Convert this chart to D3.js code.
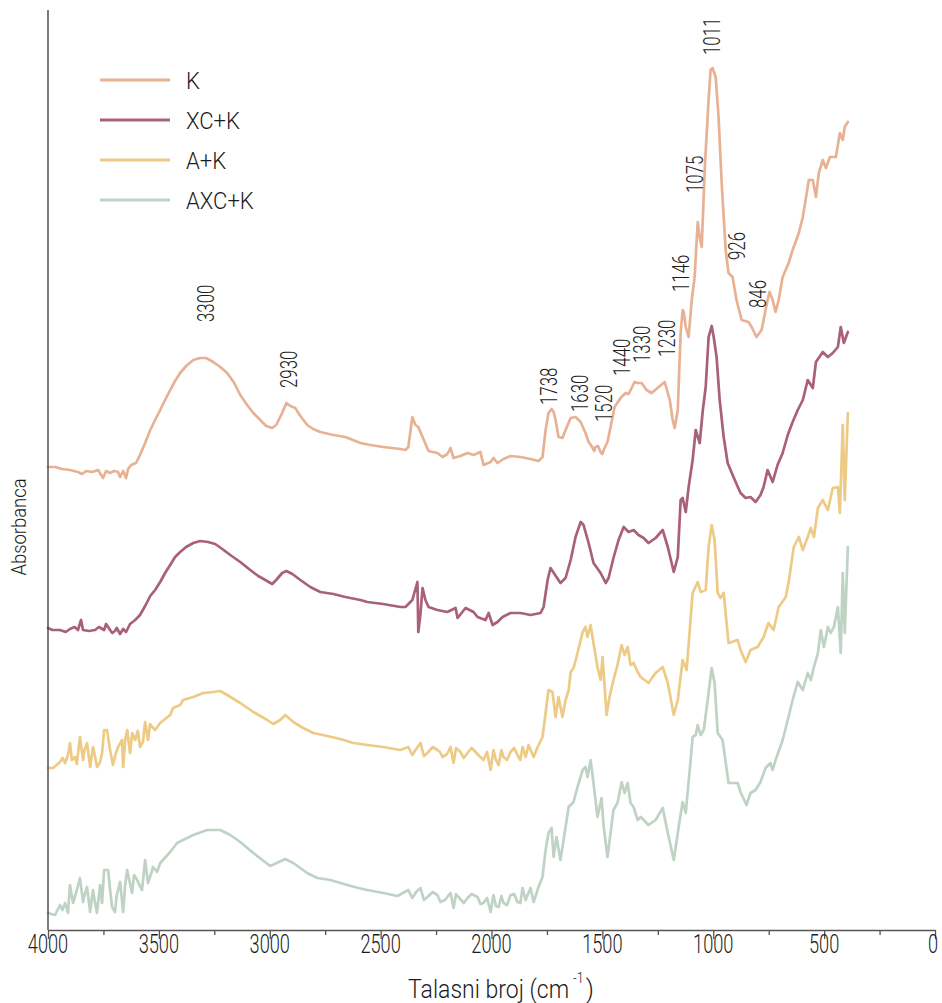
<!DOCTYPE html>
<html>
<head>
<meta charset="utf-8">
<script src="https://cdn.jsdelivr.net/npm/d3@7"></script>
<style>
  html, body { margin: 0; padding: 0; background: #fff; }
  svg { display: block; }
  text { font-family: Roboto, "Noto Sans", sans-serif; font-weight: 300; fill: #1c1c1c; }
</style>
</head>
<body>
<svg id="chart" width="942" height="1003"></svg>
<script>
// FTIR spectra: [wavenumber cm-1, absorbance (stacked, arbitrary units)]
const spectrumK = [
  [4000,4.63],[3968,4.63],[3937,4.61],[3901,4.60],[3865,4.58],[3846,4.56],[3828,4.59],[3801,4.58],
  [3774,4.60],[3752,4.52],[3738,4.59],[3720,4.57],[3702,4.59],[3684,4.58],[3675,4.53],[3661,4.59],
  [3648,4.52],[3639,4.61],[3625,4.65],[3603,4.67],[3585,4.75],[3562,4.87],[3539,5.00],[3517,5.10],
  [3494,5.20],[3472,5.30],[3449,5.40],[3427,5.49],[3404,5.57],[3377,5.64],[3345,5.70],[3314,5.72],
  [3287,5.72],[3255,5.68],[3223,5.63],[3192,5.57],[3160,5.47],[3133,5.35],[3102,5.25],[3074,5.17],
  [3043,5.10],[3016,5.04],[2989,5.02],[2971,5.05],[2944,5.17],[2925,5.27],[2907,5.24],[2885,5.22],
  [2862,5.14],[2831,5.05],[2804,5.01],[2772,4.98],[2713,4.95],[2659,4.93],[2591,4.87],[2546,4.85],
  [2488,4.83],[2411,4.81],[2388,4.80],[2375,4.83],[2357,5.13],[2343,5.05],[2330,5.03],[2311,4.93],
  [2284,4.79],[2244,4.77],[2221,4.73],[2199,4.76],[2185,4.82],[2171,4.72],[2140,4.74],[2108,4.77],
  [2081,4.75],[2050,4.78],[2036,4.65],[2004,4.68],[1991,4.72],[1973,4.67],[1946,4.71],[1914,4.74],
  [1869,4.73],[1824,4.71],[1788,4.69],[1770,4.73],[1756,5.00],[1743,5.17],[1729,5.21],[1720,5.18],
  [1711,5.10],[1698,4.93],[1680,4.92],[1666,5.00],[1643,5.12],[1621,5.13],[1598,5.08],[1576,4.97],
  [1562,4.88],[1544,4.82],[1531,4.83],[1508,4.78],[1494,4.80],[1477,4.88],[1463,5.03],[1445,5.23],
  [1418,5.32],[1395,5.37],[1382,5.36],[1368,5.42],[1355,5.48],[1341,5.47],[1323,5.47],[1301,5.40],
  [1278,5.37],[1246,5.43],[1219,5.48],[1196,5.30],[1183,5.10],[1174,5.02],[1160,5.20],[1147,5.97],
  [1138,6.20],[1133,6.18],[1124,6.03],[1111,5.93],[1097,6.30],[1084,6.53],[1070,7.08],[1061,6.93],
  [1052,6.83],[1038,7.63],[1021,8.30],[1012,8.60],[1003,8.62],[989,8.53],[976,8.13],[962,7.47],
  [944,6.80],[931,6.57],[913,6.53],[895,6.30],[872,6.10],[841,6.08],[827,6.03],[805,5.93],
  [782,6.00],[755,6.30],[746,6.38],[732,6.30],[719,6.18],[705,6.30],[687,6.53],[660,6.67],
  [642,6.80],[614,6.97],[596,7.13],[569,7.50],[551,7.50],[537,7.33],[524,7.57],[506,7.70],
  [492,7.62],[474,7.73],[447,7.73],[429,7.97],[416,7.90],[407,8.03],[393,8.08],
  [1555,4.86],[1537,4.79],[1520,4.84],[1500,4.76]
];

const spectrumXCK = [
  [4000,3.02],[3946,3.00],[3901,3.01],[3865,3.00],[3851,3.10],[3842,3.00],[3788,3.00],[3747,3.00],
  [3738,3.06],[3720,3.00],[3698,2.99],[3675,2.96],[3661,3.01],[3648,2.98],[3630,3.06],[3607,3.10],
  [3585,3.15],[3562,3.24],[3539,3.34],[3517,3.40],[3494,3.48],[3472,3.57],[3449,3.65],[3427,3.73],
  [3404,3.78],[3377,3.83],[3345,3.87],[3314,3.89],[3278,3.88],[3246,3.86],[3214,3.81],[3178,3.75],
  [3133,3.68],[3088,3.60],[3052,3.54],[3020,3.50],[2989,3.46],[2971,3.50],[2944,3.57],[2925,3.59],
  [2898,3.56],[2862,3.50],[2817,3.43],[2772,3.38],[2713,3.36],[2659,3.33],[2591,3.30],[2560,3.28],
  [2488,3.26],[2411,3.23],[2388,3.23],[2357,3.30],[2334,3.48],[2330,2.98],[2320,3.17],[2311,3.42],
  [2298,3.30],[2284,3.23],[2244,3.20],[2199,3.18],[2162,3.22],[2153,3.12],[2117,3.22],[2081,3.18],
  [2063,3.13],[2027,3.10],[2013,3.17],[1995,3.05],[1973,3.08],[1950,3.13],[1914,3.17],[1869,3.17],
  [1824,3.15],[1779,3.17],[1765,3.23],[1747,3.50],[1734,3.62],[1716,3.56],[1689,3.47],[1666,3.52],
  [1643,3.70],[1621,3.93],[1598,4.08],[1585,4.05],[1562,3.87],[1540,3.67],[1508,3.57],[1485,3.47],
  [1472,3.52],[1450,3.72],[1427,3.90],[1404,4.03],[1382,3.98],[1359,4.00],[1337,3.95],[1314,3.92],
  [1292,3.87],[1260,3.92],[1228,4.00],[1205,3.83],[1178,3.58],[1160,3.73],[1147,4.30],[1138,4.32],
  [1124,4.18],[1111,4.43],[1093,4.70],[1079,5.00],[1061,4.87],[1047,5.20],[1034,5.43],[1021,5.93],
  [1007,6.04],[998,5.93],[985,5.73],[971,5.30],[953,4.93],[935,4.67],[922,4.60],[899,4.48],
  [877,4.37],[854,4.32],[832,4.33],[809,4.28],[787,4.35],[773,4.43],[755,4.60],[732,4.48],
  [710,4.65],[687,4.77],[664,4.95],[642,5.08],[619,5.20],[596,5.30],[574,5.50],[551,5.42],
  [537,5.68],[506,5.78],[483,5.73],[461,5.77],[438,5.83],[425,6.03],[411,5.87],[393,5.98],
  [3980,3.00],[3920,2.98],[3880,3.03],[3815,2.99],[3770,3.03],[3710,2.97],[3690,3.02]
];

const spectrumAK = [
  [4000,1.62],[3977,1.62],[3946,1.68],[3923,1.67],[3910,1.75],[3901,1.87],[3892,1.70],[3878,1.73],
  [3856,1.93],[3842,1.70],[3824,1.87],[3810,1.63],[3797,1.83],[3779,1.63],[3756,1.77],[3747,2.00],
  [3734,2.00],[3720,1.80],[3707,1.65],[3684,1.83],[3666,1.90],[3661,1.63],[3643,2.00],[3630,1.77],
  [3607,1.90],[3585,1.83],[3562,2.08],[3549,1.90],[3530,2.03],[3517,2.00],[3494,2.07],[3449,2.15],
  [3436,2.22],[3404,2.25],[3391,2.30],[3345,2.33],[3300,2.37],[3255,2.38],[3223,2.39],[3192,2.35],
  [3133,2.27],[3074,2.18],[3011,2.10],[2984,2.06],[2953,2.10],[2930,2.15],[2894,2.08],[2849,2.02],
  [2804,1.97],[2740,1.94],[2682,1.91],[2623,1.87],[2560,1.85],[2488,1.83],[2411,1.80],[2375,1.83],
  [2357,1.75],[2320,1.87],[2289,1.77],[2244,1.80],[2221,1.73],[2185,1.83],[2171,1.67],[2140,1.78],
  [2108,1.77],[2072,1.78],[2036,1.70],[2004,1.60],[1991,1.80],[1968,1.65],[1946,1.73],[1914,1.78],
  [1883,1.75],[1860,1.83],[1846,1.73],[1833,1.85],[1810,1.73],[1792,1.83],[1770,1.93],[1756,2.17],
  [1743,2.40],[1725,2.38],[1711,2.13],[1698,2.33],[1680,2.13],[1666,2.30],[1652,2.40],[1643,2.58],
  [1630,2.62],[1612,2.77],[1589,2.98],[1576,3.03],[1567,2.93],[1553,3.05],[1540,2.87],[1522,2.63],
  [1508,2.50],[1499,2.73],[1481,2.15],[1468,2.33],[1450,2.50],[1432,2.65],[1413,2.85],[1400,2.75],
  [1386,2.83],[1373,2.65],[1359,2.67],[1341,2.58],[1327,2.53],[1292,2.47],[1260,2.57],[1228,2.63],
  [1205,2.47],[1178,2.15],[1160,2.30],[1138,2.70],[1120,2.60],[1093,3.37],[1070,3.48],[1057,3.38],
  [1034,3.40],[1021,3.83],[1007,4.05],[994,3.90],[980,3.37],[967,3.32],[953,3.37],[931,2.87],
  [890,2.90],[877,2.80],[854,2.68],[832,2.80],[800,2.83],[773,2.93],[751,3.07],[728,3.00],
  [705,3.23],[673,3.33],[660,3.48],[637,3.83],[614,3.93],[596,3.80],[574,3.93],[560,4.02],
  [546,3.93],[528,4.22],[506,4.30],[483,4.20],[461,4.42],[438,4.43],[429,4.17],[416,5.05],
  [407,4.30],[393,5.17],
  [3935,1.72],[3870,1.66],[3835,1.80],[3790,1.76],[3765,1.68],[3695,1.76],[3652,1.90],[3620,1.97],
  [3595,1.99],[3572,1.88],[3540,2.06],
  [2340,1.81],[2305,1.74],[2265,1.83],[2232,1.78],[2200,1.76],[2160,1.82],[2125,1.72],[2090,1.82],
  [2055,1.74],[2020,1.78],[1980,1.70],[1955,1.80],[1930,1.70],[1898,1.82],[1870,1.70]
];

const spectrumAXCK = [
  [4000,0.17],[3968,0.15],[3946,0.25],[3923,0.27],[3910,0.17],[3901,0.45],[3887,0.27],[3856,0.52],
  [3842,0.28],[3824,0.43],[3810,0.18],[3797,0.40],[3779,0.17],[3756,0.27],[3747,0.60],[3729,0.60],
  [3711,0.23],[3698,0.18],[3675,0.48],[3661,0.18],[3643,0.60],[3621,0.37],[3598,0.50],[3576,0.40],
  [3562,0.70],[3549,0.47],[3526,0.63],[3508,0.58],[3494,0.67],[3449,0.78],[3418,0.87],[3391,0.90],
  [3345,0.95],[3282,1.00],[3223,1.00],[3178,0.95],[3133,0.88],[3074,0.77],[2998,0.64],[2930,0.71],
  [2894,0.67],[2831,0.57],[2786,0.52],[2727,0.50],[2650,0.45],[2600,0.42],[2560,0.40],[2488,0.37],
  [2424,0.34],[2375,0.40],[2357,0.32],[2320,0.42],[2289,0.33],[2244,0.35],[2230,0.28],[2185,0.37],
  [2171,0.22],[2149,0.33],[2108,0.32],[2063,0.33],[2036,0.27],[2004,0.18],[1991,0.35],[1968,0.23],
  [1946,0.27],[1914,0.35],[1883,0.28],[1860,0.42],[1846,0.30],[1824,0.42],[1810,0.28],[1788,0.43],
  [1770,0.53],[1756,0.80],[1743,0.97],[1729,1.02],[1720,0.73],[1707,0.93],[1689,0.70],[1675,0.90],
  [1652,1.23],[1630,1.28],[1612,1.43],[1589,1.60],[1576,1.63],[1567,1.53],[1553,1.70],[1540,1.47],
  [1522,1.13],[1504,1.32],[1494,1.03],[1477,0.73],[1463,0.97],[1450,1.20],[1432,1.27],[1413,1.48],
  [1400,1.37],[1386,1.47],[1373,1.27],[1359,1.23],[1341,1.10],[1327,1.13],[1292,1.05],[1260,1.10],
  [1228,1.22],[1205,0.97],[1178,0.70],[1156,1.03],[1138,1.28],[1124,1.17],[1102,1.70],[1093,1.93],
  [1079,1.95],[1070,2.05],[1057,1.95],[1043,2.00],[1025,2.30],[1007,2.62],[994,2.47],[980,1.97],
  [958,1.90],[931,1.47],[890,1.47],[877,1.38],[850,1.25],[832,1.37],[809,1.40],[787,1.48],
  [764,1.62],[742,1.67],[732,1.60],[719,1.70],[687,1.90],[664,2.10],[642,2.30],[619,2.48],
  [596,2.40],[574,2.57],[560,2.50],[546,2.63],[528,2.77],[515,3.00],[501,2.83],[483,3.03],
  [470,2.97],[456,3.03],[438,3.23],[425,2.77],[416,3.57],[407,2.97],[393,3.83],
  [3935,0.20],[3870,0.40],[3835,0.35],[3790,0.30],[3765,0.45],[3720,0.40],[3690,0.35],[3652,0.45],
  [3612,0.55],[3588,0.45],[3537,0.55],
  [2340,0.38],[2305,0.30],[2265,0.38],[2210,0.30],[2160,0.36],[2125,0.27],[2090,0.36],[2050,0.26],
  [2020,0.32],[1980,0.24],[1955,0.34],[1930,0.25],[1898,0.36],[1870,0.27]
];

const seriesNames = ["K", "XC+K", "A+K", "AXC+K"];
const seriesColors = ["#E8B194", "#A9607A", "#EDCB86", "#BED3C4"];
const seriesData = [spectrumK, spectrumXCK, spectrumAK, spectrumAXCK]
  .map(s => s.slice().sort((a, b) => b[0] - a[0]));

const majorTicks = [4000, 3500, 3000, 2500, 2000, 1500, 1000, 500, 0];
const minorTicks = [3750, 3250, 2750, 2250, 1750, 1250, 750, 250];

// Band assignments marked on the K spectrum
const peakLabels = [3300, 2930, 1738, 1630, 1520, 1440, 1330, 1230, 1146, 1075, 1011, 926, 846];

// ---- layout ----
const plot = { left: 48, right: 935, top: 10, bottom: 930 };
const svg = d3.select("#chart");

const x = d3.scaleLinear().domain([4000, 0]).range([plot.left, plot.right]);
const y = d3.scaleLinear().domain([0, 9.2]).range([plot.bottom, plot.top]);

// squeeze text horizontally to get a condensed face
function condense(sel, f) {
  sel.each(function () {
    const w = this.getComputedTextLength();
    this.setAttribute("textLength", (w * f).toFixed(1));
    this.setAttribute("lengthAdjust", "spacingAndGlyphs");
  });
}

// spectra
const line = d3.line().x(d => x(d[0])).y(d => y(d[1]));
svg.append("g").selectAll("path")
  .data(seriesData.map((d, i) => ({ d, i })).reverse())
  .join("path")
  .attr("d", s => line(s.d))
  .attr("fill", "none")
  .attr("stroke", s => seriesColors[s.i])
  .attr("stroke-width", 2.7)
  .attr("stroke-linejoin", "round")
  .attr("stroke-linecap", "round");

// left axis (no ticks)
svg.append("line")
  .attr("x1", plot.left).attr("x2", plot.left)
  .attr("y1", plot.top).attr("y2", plot.bottom)
  .attr("stroke", "#444").attr("stroke-width", 1.4);

// bottom axis
const gx = svg.append("g").attr("transform", `translate(0,${plot.bottom})`);
gx.call(d3.axisBottom(x).tickValues(majorTicks).tickSize(9).tickSizeOuter(0).tickFormat(""));
gx.append("g").call(d3.axisBottom(x).tickValues(minorTicks).tickSize(5).tickSizeOuter(0).tickFormat(""))
  .select(".domain").remove();
gx.selectAll(".domain").attr("stroke", "#555").attr("stroke-width", 1.6);
gx.selectAll(".tick line").attr("stroke", "#555").attr("stroke-width", 1.3);

// tick labels, the last one kept inside the canvas
const tickText = svg.append("g").selectAll("text")
  .data(majorTicks).join("text")
  .attr("x", d => Math.min(x(d), 933))
  .attr("y", 953)
  .attr("text-anchor", "middle")
  .attr("font-size", 26)
  .text(d => d);
condense(tickText, 0.7);

// x axis title: main text, superscript and closing bracket
const titleG = svg.append("g");
const t1 = titleG.append("text").attr("font-size", 25).attr("y", 998).text("Talasni broj (cm");
condense(t1, 0.92);
const w1 = t1.node().getBBox().width;
const t2 = titleG.append("text").attr("font-size", 14).attr("y", 983).attr("x", w1 + 4).text("-1");
condense(t2, 0.9);
const w2 = t2.node().getBBox().width;
const t3 = titleG.append("text").attr("font-size", 25).attr("y", 998).attr("x", w1 + w2 + 6).text(")");
const wTot = w1 + w2 + 6 + t3.node().getBBox().width;
titleG.attr("transform", `translate(${501 - wTot / 2},0)`);

const yt = svg.append("text")
  .attr("transform", "translate(26,527) rotate(-90)")
  .attr("text-anchor", "middle")
  .attr("font-size", 20)
  .text("Absorbanca");
condense(yt, 0.92);

// peak labels above the K spectrum: [horizontal shift, text start]
const labelPos = { 3300: [2, 322], 2930: [3, 388], 1738: [-1, 405], 1630: [6, 412], 1520: [6, 422],
  1440: [6, 376], 1330: [1, 363], 1230: [4, 357], 1146: [0, 292], 1075: [-2, 193], 1011: [1, 55],
  926: [7, 260], 846: [10, 308] };
const pl = svg.append("g").selectAll("text")
  .data(peakLabels).join("text")
  .attr("transform", d => `translate(${x(d) + labelPos[d][0] + 8.5},${labelPos[d][1]}) rotate(-90)`)
  .attr("font-size", 24)
  .text(d => d);
condense(pl, 0.7);

// legend
const lg = svg.append("g").selectAll("g")
  .data(seriesNames).join("g")
  .attr("transform", (d, i) => `translate(100,${80 + i * 40})`);
lg.append("line").attr("x1", 0).attr("x2", 70)
  .attr("stroke", (d, i) => seriesColors[i]).attr("stroke-width", 2.8);
const lt = lg.append("text").attr("x", 86).attr("y", 8.5)
  .attr("font-size", 24).text(d => d);
condense(lt, 0.92);
</script>
</body>
</html>
